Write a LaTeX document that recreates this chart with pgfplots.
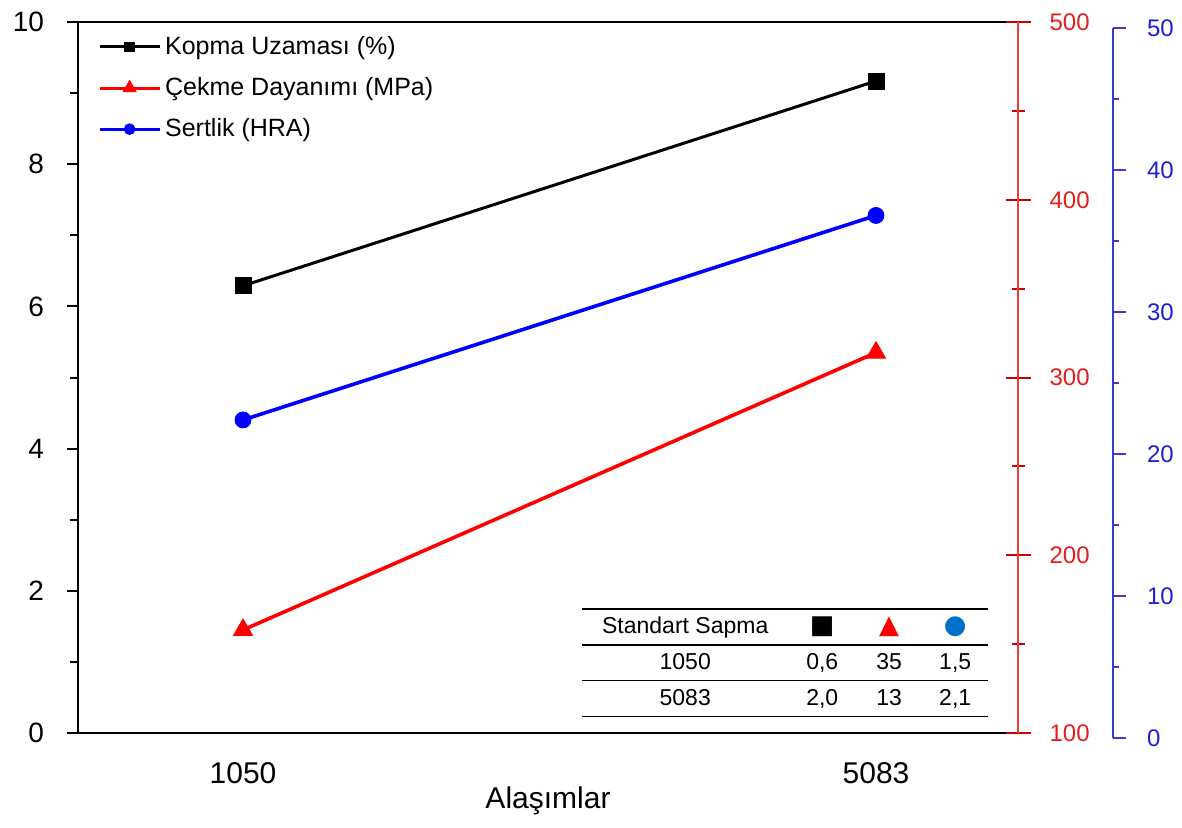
\documentclass[border=0pt]{standalone}
\usepackage{pgfplots}
\pgfplotsset{compat=1.18}
\usepackage{fontspec}
\setmainfont{Liberation Sans}
\newfontfamily\symfont{DejaVu Sans}
\usepackage{array}

\definecolor{axred}{RGB}{235,60,60}
\definecolor{axblue}{RGB}{60,60,200}
\definecolor{lblred}{RGB}{225,30,30}
\definecolor{lblblue}{RGB}{30,30,210}
\definecolor{dotblue}{RGB}{0,112,200}

\pgfplotsset{
  common/.style={
    width=470pt, height=355.5pt, scale only axis,
    /pgf/number format/assume math mode=true,
    clip=false,
  },
  legend image code/.code={%
    \draw[mark repeat=2,mark phase=2,#1]
      plot coordinates {(0pt,0pt) (15pt,0pt) (30pt,0pt)};},
}

\begin{document}
\begin{tikzpicture}
\useasboundingbox (-39pt,-47pt) rectangle (552pt,366.5pt);

% left axis: Kopma Uzamasi
\begin{axis}[common,
  xmin=-0.2607, xmax=1.2243,
  ymin=0, ymax=10, ytick={0,2,...,10}, minor y tick num=1,
  axis y line*=left,
  xtick={0,1}, xticklabels={1050,5083},
  xtick style={draw=none},
  xticklabel style={font=\fontsize{15}{18}\selectfont, yshift=-5.5pt},
  xlabel={Alaşımlar},
  xlabel style={font=\fontsize{15}{18}\selectfont, yshift=5pt},
  tick align=outside,
  major tick length=5.5pt, minor tick length=4pt,
  ytick style={black, line width=1pt},
  axis line style={black, line width=1.3pt},
  yticklabel style={font=\fontsize{14}{17}\selectfont, xshift=-8pt},
  legend style={draw=none, fill=none, at={(0.021,0.986)}, anchor=north west,
    font=\fontsize{12.5}{15}\selectfont, row sep=6pt, inner sep=0pt},
  legend cell align=left,
]
\addplot[black, line width=1.5pt, mark=square*, mark size=4pt,
  mark options={line width=0.4pt}, forget plot]
  coordinates {(0,6.29) (1,9.17)};

\addlegendimage{black, line width=1.5pt, mark=square*, mark size=2.4pt, mark options={line width=0.4pt}}
\addlegendentry{Kopma Uzaması (\%)}
\addlegendimage{red, line width=1.5pt, mark=triangle*, mark size=3.8pt, mark options={line width=0.4pt}}
\addlegendentry{Çekme Dayanımı (MPa)}
\addlegendimage{blue, line width=1.5pt, mark=*, mark size=2.7pt, mark options={line width=0.4pt}}
\addlegendentry{Sertlik (HRA)}

\coordinate (tbl) at (rel axis cs:0.536,0.176);
\end{axis}

% red axis: Cekme Dayanimi
\begin{axis}[common,
  xmin=-0.2607, xmax=1.2243,
  ymin=100, ymax=500, ytick={100,200,...,500}, minor y tick num=1,
  axis y line*=right, axis x line=none,
  tick align=center,
  major tick length=12.5pt, minor tick length=6.5pt,
  axis line style={axred, line width=1.3pt},
  ytick style={red!80!black, line width=1pt},
  yticklabel style={lblred, font=\fontsize{12}{14}\selectfont, xshift=6pt},
]
\addplot[red, line width=1.8pt, mark=triangle*, mark size=5.5pt,
  mark options={line width=0.4pt}]
  coordinates {(0,158) (1,314)};
\end{axis}

% blue axis: Sertlik
\begin{axis}[common, height=355pt, at={(47.5pt,-2.5pt)},
  xmin=-0.1106, xmax=1.3744,
  ymin=0, ymax=50, ytick={0,10,...,50}, minor y tick num=1,
  axis y line*=right, axis x line=none,
  tick align=outside,
  major tick length=6.5pt, minor tick length=3pt,
  axis line style={axblue, line width=1.3pt},
  ytick style={axblue, line width=1pt},
  yticklabel style={lblblue, font=\fontsize{12}{14}\selectfont, xshift=7pt},
]
\addplot[blue, line width=1.8pt, mark=*, mark size=4pt,
  mark options={line width=0.4pt}]
  coordinates {(0,22.4) (1,36.8)};
\end{axis}

\node[anchor=north west, inner sep=0pt, font=\fontsize{11.5}{13.8}\selectfont] at (tbl) {%
  \setlength{\tabcolsep}{0pt}\renewcommand{\arraystretch}{1.25}\setlength{\arrayrulewidth}{0.7pt}%
  \begin{tabular}{>{\centering\arraybackslash}p{103pt}>{\centering\arraybackslash}p{34pt}>{\centering\arraybackslash}p{33pt}>{\centering\arraybackslash}p{33pt}}
  \hline
  Standart Sapma & {\symfont\fontsize{13}{14}\selectfont ■} & {\symfont\fontsize{13}{14}\selectfont\textcolor{red}{▲}} & {\symfont\fontsize{13}{14}\selectfont\textcolor{dotblue}{●}} \\ \hline
  1050 & 0,6 & 35 & 1,5 \\ \hline
  5083 & 2,0 & 13 & 2,1 \\ \hline
  \end{tabular}};
\end{tikzpicture}
\end{document}
